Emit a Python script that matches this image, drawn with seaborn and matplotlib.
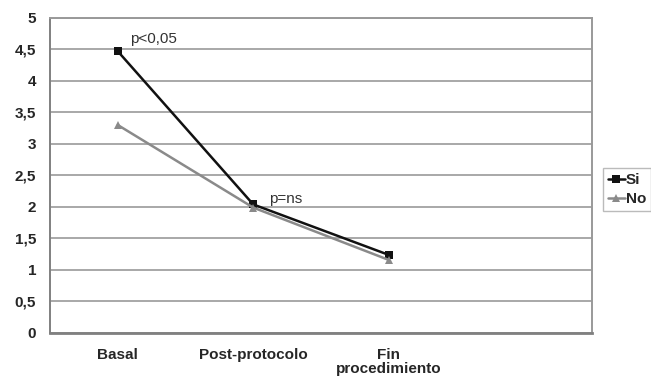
import pandas as pd
import seaborn as sns
import matplotlib.pyplot as plt

fases = ['Basal', 'Post-protocolo', 'Fin\nprocedimiento']
si = [4.47, 2.04, 1.24]
no = [3.30, 1.99, 1.16]
y_ticks = [0, 0.5, 1, 1.5, 2, 2.5, 3, 3.5, 4, 4.5, 5]
y_labels = ['0', '0,5', '1', '1,5', '2', '2,5', '3', '3,5', '4', '4,5', '5']

data = pd.DataFrame({
    'fase': list(range(3)) * 2,
    'valor': si + no,
    'grupo': ['Si'] * 3 + ['No'] * 3,
})

sns.set_style('white')
plt.rcParams['font.family'] = ['Liberation Sans', 'DejaVu Sans']

fig = plt.figure(figsize=(6.51, 3.81), dpi=100)
ax = fig.add_axes([0.077, 0.126, 0.832, 0.827])

ax.set_axisbelow(True)
ax.grid(axis='y', color='#a8a8a8', linewidth=1.4)

sns.lineplot(data=data, x='fase', y='valor', hue='grupo', style='grupo',
             palette={'Si': '#111111', 'No': '#8a8a8a'},
             markers={'Si': 's', 'No': '^'}, dashes=False,
             markersize=6, linewidth=1.8, markeredgewidth=0, ax=ax)

ax.set_xlim(-0.5, 3.5)
ax.set_ylim(0, 5)
ax.set_xticks(range(3))
ax.set_xticklabels(fases, fontweight='bold', fontsize=11, linespacing=1.0)
ax.set_yticks(y_ticks)
ax.set_yticklabels(y_labels, fontweight='bold', fontsize=11)
ax.tick_params(axis='x', length=0, pad=11)
ax.tick_params(axis='y', length=0, pad=10)
ax.set_xlabel('')
ax.set_ylabel('')

for s in ax.spines.values():
    s.set_color('#999999')
    s.set_linewidth(1.4)
ax.spines['left'].set_color('#808080')
ax.spines['bottom'].set_color('#808080')
ax.spines['bottom'].set_linewidth(2)

ax.text(0.09, 4.6, 'p<0,05', fontsize=11, color='#333333')
ax.text(1.12, 2.07, 'p=ns', fontsize=11, color='#333333')

leg = ax.legend(loc='center left', bbox_to_anchor=(1.021, 0.455), frameon=True,
                fancybox=False, edgecolor='#aaaaaa', handlelength=1.1,
                handletextpad=0.1, borderpad=0.3, labelspacing=0.35,
                borderaxespad=0, prop={'weight': 'bold', 'size': 11})
leg.get_frame().set_linewidth(1.0)

fig.savefig('out.png', dpi=100)
